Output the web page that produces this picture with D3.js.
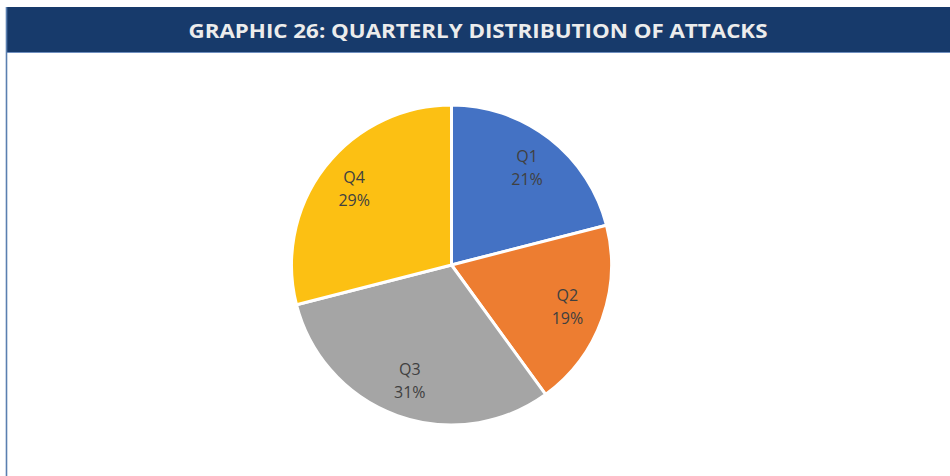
<!DOCTYPE html>
<html><head><meta charset="utf-8">
<script src="https://cdn.jsdelivr.net/npm/d3@7"></script>
<style>html,body{margin:0;padding:0;background:#fff;}svg{display:block;}</style>
</head><body>
<script>
const title = "GRAPHIC 26: QUARTERLY DISTRIBUTION OF ATTACKS";
const categories = ["Q1", "Q2", "Q3", "Q4"];
const values = [21, 19, 31, 29];
const colors = ["#4472c4", "#ed7d31", "#a5a5a5", "#fcc013"];

const W = 950, H = 476;
const svg = d3.select("body").append("svg").attr("width", W).attr("height", H);

// title bar
svg.append("rect").attr("x", 6).attr("y", 7).attr("width", W - 6).attr("height", 45).attr("fill", "#173a6b");
svg.append("line").attr("x1", 6).attr("x2", W).attr("y1", 52.5).attr("y2", 52.5).attr("stroke", "#6f8fbf").attr("stroke-width", 1.2);
svg.append("line").attr("x1", 6.5).attr("x2", 6.5).attr("y1", 7).attr("y2", H).attr("stroke", "#5a7fb0").attr("stroke-width", 1.6);
svg.append("text").attr("x", 478).attr("y", 38).attr("text-anchor", "middle")
  .attr("font-family", "'Open Sans', sans-serif").attr("font-weight", "bold").attr("font-size", 20)
  .attr("fill", "#ececec").attr("textLength", 579).attr("lengthAdjust", "spacingAndGlyphs").text(title);

const cx = 451.5, cy = 265, r = 160;
const data = categories.map((c, i) => ({ cat: c, value: values[i], color: colors[i] }));
const pie = d3.pie().value(d => d.value).sort(null);
const arc = d3.arc().innerRadius(0).outerRadius(r);
const labelArc = d3.arc().innerRadius(r * 0.77).outerRadius(r * 0.77);
const g = svg.append("g").attr("transform", `translate(${cx},${cy})`);
const arcs = pie(data);
g.selectAll("path").data(arcs).join("path")
  .attr("d", arc).attr("fill", d => d.data.color)
  .attr("stroke", "#fff").attr("stroke-width", 3).attr("stroke-linejoin", "round");

const lab = g.selectAll("text.lbl").data(arcs).join("text").attr("class", "lbl")
  .attr("transform", d => `translate(${labelArc.centroid(d)})`)
  .attr("text-anchor", "middle")
  .attr("font-family", "'Open Sans', sans-serif").attr("font-size", 16).attr("fill", "#404040");
lab.append("tspan").attr("x", 0).attr("y", -6).text(d => d.data.cat);
lab.append("tspan").attr("x", 0).attr("y", 17).text(d => d.data.value + "%");
</script>
</body></html>
